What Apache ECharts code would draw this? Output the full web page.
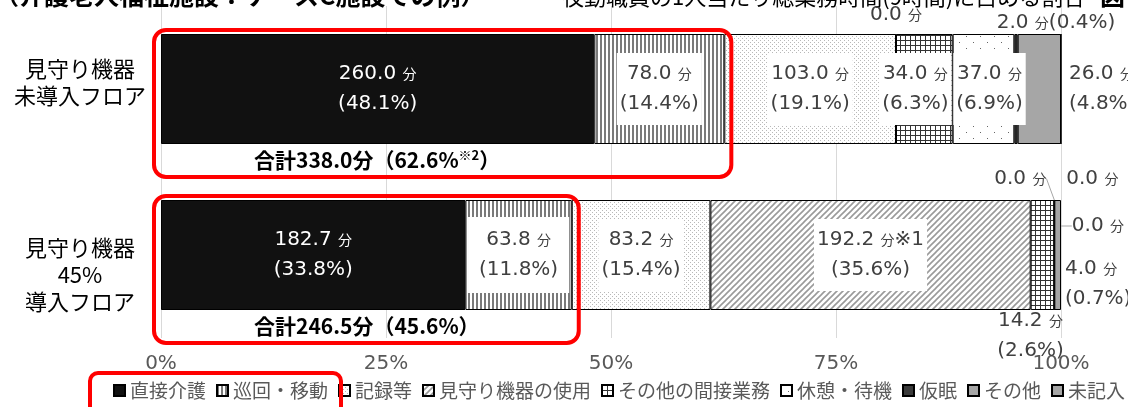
<!DOCTYPE html>
<html lang="ja">
<head>
  <meta charset="UTF-8">
  <title>見守り機器 業務時間割合</title>
  <script src="https://cdn.jsdelivr.net/npm/echarts@6/dist/echarts.min.js"></script>
  <style>
    html, body { margin: 0; padding: 0; background: #fff; }
  </style>
</head>
<body>
  <div id="main" style="width:1128px;height:407px;"></div>
  <script>
    // データ（分）
    var categories = ['見守り機器\n未導入フロア', '見守り機器\n45%\n導入フロア'];
    var tasks = ['直接介護', '巡回・移動', '記録等', '見守り機器の使用', 'その他の間接業務', '休憩・待機', '仮眠', 'その他', '未記入'];
    var minNone = [260.0, 78.0, 103.0, 0.0, 34.0, 37.0, 2.0, 26.0, 0.0];
    var min45 = [182.7, 63.8, 83.2, 192.2, 14.2, 0.0, 0.0, 0.0, 4.0];
    var pctTicks = [0, 25, 50, 75, 100];
    var rows = [minNone, min45];
    var notes = [{}, { 3: '※1' }];

    var CJK = "'Noto Sans CJK JP'";
    var NUM = "'DejaVu Sans', 'Noto Sans CJK JP'";

    // 模様
    function pat(w, h, draw) {
      var c = document.createElement('canvas');
      c.width = w; c.height = h;
      var g = c.getContext('2d');
      g.fillStyle = '#fff'; g.fillRect(0, 0, w, h);
      draw(g);
      return { image: c, repeat: 'repeat' };
    }
    var fills = [
      '#111111',
      pat(4, 4, function (g) { g.fillStyle = '#7a7a7a'; g.fillRect(0, 0, 2, 4); }),
      pat(4, 4, function (g) { g.fillStyle = '#b8b8b8'; g.fillRect(0, 0, 1, 1); g.fillRect(2, 2, 1, 1); }),
      pat(6, 6, function (g) {
        g.strokeStyle = '#9a9a9a'; g.lineWidth = 1.6;
        g.beginPath(); g.moveTo(-1, 7); g.lineTo(7, -1);
        g.moveTo(-1, 1); g.lineTo(1, -1); g.moveTo(5, 7); g.lineTo(7, 5); g.stroke();
      }),
      pat(5, 5, function (g) { g.fillStyle = '#333'; g.fillRect(0, 0, 5, 1); g.fillRect(0, 0, 1, 5); }),
      pat(14, 12, function (g) { g.fillStyle = '#666'; g.fillRect(0, 0, 1, 1); g.fillRect(7, 6, 1, 1); }),
      '#3a3a3a',
      '#a6a6a6',
      '#a6a6a6'
    ];

    // ラベル配置 [行][系列]
    var lab = [
      [{ c: '#fff' }, { bg: 1 }, { bg: 1 }, { pos: 'top', dy: 0 }, { bg: 1, dx: -9 }, { bg: 1, dx: 6 },
       { pos: 'top', inline: 1, dx: 40, dy: 8 }, { pos: 'right', dx: 4 }, null],
      [{ c: '#fff' }, { bg: 1, pad: [8, 11] }, { bg: 1 }, { bg: 1 }, { pos: 'bottom', dx: -12, dy: -8 },
       { pos: 'top', dx: -34, dy: -2, line: 1 }, { pos: 'top', dx: 38, dy: -2 },
       { pos: 'right', dx: 13, dy: -29, line: 1 }, { pos: 'right', dx: 0, dy: 29 }]
    ];

    var totals = rows.map(function (r) { return r.reduce(function (a, b) { return a + b; }, 0); });

    var series = tasks.map(function (name, i) {
      var data = rows.map(function (r, ri) {
        var v = r[i], pct = v / totals[ri] * 100, o = lab[ri][i];
        var item = { value: pct };
        if (!o) { item.label = { show: false }; return item; }
        var note = notes[ri][i] || '';
        var txt;
        if (v === 0) txt = '{n|0.0 }{u|分}';
        else if (o.inline) txt = '{n|' + v.toFixed(1) + ' }{u|分}{n|(' + pct.toFixed(1) + '%)}';
        else txt = '{n|' + v.toFixed(1) + ' }{u|分}' + (note ? '{n|' + note + '}' : '') + '\n{n|(' + pct.toFixed(1) + '%)}';
        var col = o.c || '#404040';
        item.label = {
          show: true,
          position: o.pos || 'inside',
          distance: 4,
          formatter: txt,
          overflow: 'none',
          backgroundColor: o.bg ? '#fff' : 'transparent',
          padding: o.bg ? (o.pad || [6, 3]) : 0,
          lineHeight: 30,
          rich: {
            n: { fontSize: 20, fontFamily: NUM, color: col, lineHeight: 30 },
            u: { fontSize: 14, fontFamily: CJK, color: col, lineHeight: 30 }
          }
        };
        item.labelLine = { show: !!o.line, lineStyle: { color: '#a6a6a6', width: 1 } };
        item._dx = o.dx || 0; item._dy = o.dy || 0;
        return item;
      });
      return {
        name: name,
        type: 'bar',
        stack: 'all',
        barWidth: 110,
        data: data,
        itemStyle: { color: fills[i], borderColor: '#000', borderWidth: 1 },
        labelLayout: function (p) {
          var d = data[p.dataIndex];
          return { dx: d._dx || 0, dy: d._dy || 0 };
        },
        emphasis: { disabled: true }
      };
    });

    var option = {
      animation: false,
      textStyle: { fontFamily: CJK },
      grid: { left: 161, right: 67, top: 6, bottom: 69, containLabel: false, outerBoundsMode: 'none' },
      xAxis: {
        type: 'value', min: pctTicks[0], max: pctTicks[pctTicks.length - 1], interval: 25,
        axisLine: { show: false }, axisTick: { show: false },
        splitLine: { lineStyle: { color: '#d9d9d9' } },
        axisLabel: { formatter: '{value}%', fontSize: 20, fontFamily: NUM, color: '#595959', margin: 16 }
      },
      yAxis: {
        type: 'category', inverse: true,
        data: categories,
        axisLine: { show: false }, axisTick: { show: false },
        axisLabel: {
          margin: 16,
          formatter: function (value, idx) {
            var lines = value.split('\n').map(function (s) { return '{a|' + s + '}'; });
            // 2行目のカテゴリ名は少し下寄せ
            return idx === 1 ? '{sp| }\n' + lines.join('\n') : lines.join('\n') + '\n{sq| }';
          },
          rich: {
            a: { fontSize: 22, color: '#000', width: 130, align: 'center', lineHeight: 27, fontFamily: CJK },
            sp: { fontSize: 10, lineHeight: 40, width: 130 },
            sq: { fontSize: 6, lineHeight: 14, width: 130 }
          }
        }
      },
      legend: {
        left: 113, top: 381, padding: 0,
        itemWidth: 11, itemHeight: 11, itemGap: 10,
        icon: 'rect',
        textStyle: { fontSize: 19, color: '#595959', fontFamily: CJK },
        data: tasks
      },
      series: series
    };

    var chart = echarts.init(document.getElementById('main'));
    chart.setOption(option);

    // 注記（赤枠・合計）
    var hl = 2;
    var g = [];
    rows.forEach(function (r, ri) {
      var sum = r.slice(0, hl).reduce(function (a, b) { return a + b; }, 0);
      var sumPct = sum / totals[ri] * 100;
      var p0 = chart.convertToPixel({ gridIndex: 0 }, [0, ri]);
      var p1 = chart.convertToPixel({ gridIndex: 0 }, [sumPct, ri]);
      var top = p0[1] - 55, bot = p0[1] + 55;
      g.push({
        type: 'rect', z: 100,
        shape: { x: p0[0] - 7, y: top - 4, width: p1[0] - p0[0] + 14, height: bot - top + 37, r: 12 },
        style: { fill: 'none', stroke: '#ff0000', lineWidth: 4 }
      });
      g.push({
        type: 'text', z: 101, x: p0[0] + 93, y: bot + 16,
        style: {
          text: '{b|合計' + sum.toFixed(1) + '分（' + sumPct.toFixed(1) + '%}' + (ri === 0 ? '{s|※2}' : '') + '{b|）}',
          verticalAlign: 'middle', align: 'left',
          rich: {
            b: { fontSize: 21, fontWeight: 'bold', fontFamily: CJK, fill: '#000' },
            s: { fontSize: 13, fontWeight: 'bold', fontFamily: CJK, fill: '#000', verticalAlign: 'top', padding: [0, 0, 10, 0] }
          }
        }
      });
    });
    // 凡例の赤枠
    g.push({
      type: 'rect', z: 100,
      shape: { x: 90, y: 373, width: 251, height: 44, r: 8 },
      style: { fill: 'none', stroke: '#ff0000', lineWidth: 4 }
    });
    // 上端で切れた見出し
    g.push({ type: 'text', x: -6, y: 8, style: { text: '（介護老人福祉施設：ケースC施設での例）', fontSize: 25, fontWeight: 'bold', fontFamily: CJK, fill: '#000', verticalAlign: 'bottom' } });
    g.push({ type: 'text', x: 540, y: 8, style: { text: '～夜勤職員の1人当たり総業務時間(9時間)に占める割合', fontSize: 22, fontFamily: CJK, fill: '#000', verticalAlign: 'bottom' } });
    g.push({ type: 'text', x: 1100, y: 8, style: { text: '図', fontSize: 25, fontWeight: 'bold', fontFamily: CJK, fill: '#000', verticalAlign: 'bottom' } });
    chart.setOption({ graphic: g });
  </script>
</body>
</html>
